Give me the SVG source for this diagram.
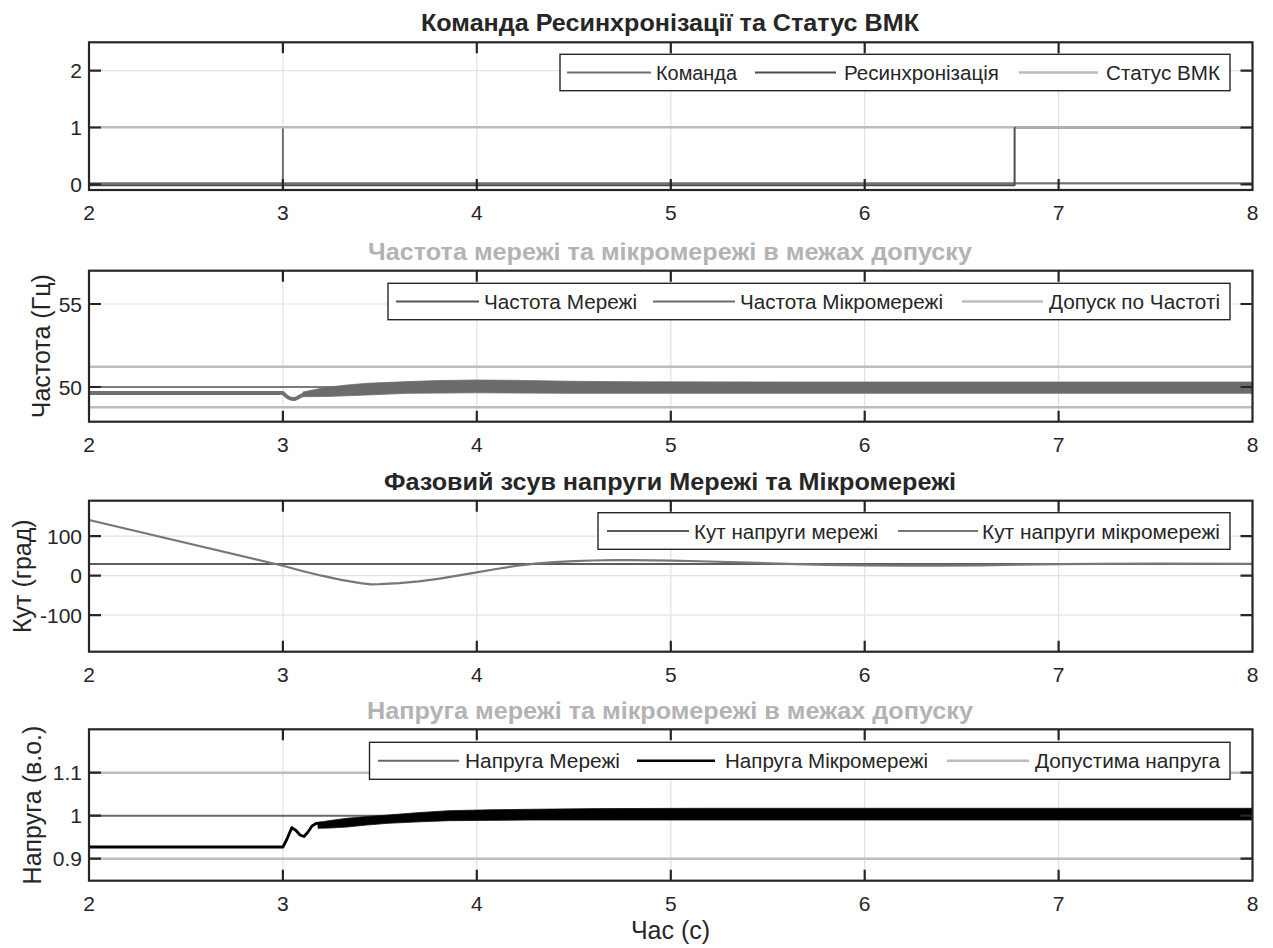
<svg xmlns="http://www.w3.org/2000/svg" width="1273" height="948" viewBox="0 0 1273 948">
<defs>
<style>
text{font-family:"Liberation Sans",Arial,"DejaVu Sans",sans-serif;fill:#262626}
.xt{font-size:21px;text-anchor:middle}
.yt{font-size:21px;text-anchor:end}
.ttl{font-size:23px;font-weight:bold;text-anchor:middle}
.ttlg{fill:#b3b3b3}
.lab{font-size:25px;text-anchor:middle}
.lgt{font-size:20.5px}
.ax{fill:none;stroke:#262626;stroke-width:2.2}
.grid{stroke:#e2e2e2;stroke-width:1.2;fill:none}
.tick{stroke:#262626;stroke-width:2.2;fill:none}
.lgbox{fill:#ffffff;stroke:#262626;stroke-width:1.4}
.tol{stroke:#bdbdbd;stroke-width:2.5;fill:none}
.ln{fill:none;stroke-linejoin:round}
</style>
</defs>
<rect x="0" y="0" width="1273" height="948" fill="#ffffff"/>

<!-- ===== Subplot 1 ===== -->
<g id="plot1">
<path class="grid" d="M282.9,42.3V190M476.8,42.3V190M670.8,42.3V190M864.7,42.3V190M1058.6,42.3V190M89,70.7H1252.5M89,127.5H1252.5M89,184.3H1252.5"/>
<path class="ln" stroke="#707070" stroke-width="2" d="M89,183.3H282.9V127.5V183.3H1252.5"/>
<path class="ln" stroke="#4d4d4d" stroke-width="2" d="M89,185.3H1014.6V127.5H1252.5"/>
<path class="ln" stroke="#bdbdbd" stroke-width="2.5" d="M89,127.3H1014"/>
<path class="ln" stroke="#b0b0b0" stroke-width="2.5" d="M1015.5,127.3H1252.5"/>
<rect class="ax" x="89" y="42.3" width="1163.5" height="147.7"/>
<path class="tick" d="M282.9,42.3v11M476.8,42.3v11M670.8,42.3v11M864.7,42.3v11M1058.6,42.3v11M282.9,190v-11M476.8,190v-11M670.8,190v-11M864.7,190v-11M1058.6,190v-11M89,70.7h12M89,127.5h12M89,184.3h12M1252.5,70.7h-12M1252.5,127.5h-12M1252.5,184.3h-12"/>
<text class="yt" x="82" y="78.2">2</text>
<text class="yt" x="82" y="135">1</text>
<text class="yt" x="82" y="191.8">0</text>
<text class="xt" x="89" y="220">2</text>
<text class="xt" x="282.9" y="220">3</text>
<text class="xt" x="476.8" y="220">4</text>
<text class="xt" x="670.8" y="220">5</text>
<text class="xt" x="864.7" y="220">6</text>
<text class="xt" x="1058.6" y="220">7</text>
<text class="xt" x="1252.5" y="220">8</text>
<text class="ttl" x="670" y="31" textLength="498" lengthAdjust="spacingAndGlyphs">Команда Ресинхронізації та Статус ВМК</text>
<g id="legend1">
<rect class="lgbox" x="560" y="54.3" width="670" height="36.4"/>
<path class="ln" stroke="#707070" stroke-width="2" d="M567,72.5H651"/>
<text class="lgt" x="656" y="80" textLength="81" lengthAdjust="spacingAndGlyphs">Команда</text>
<path class="ln" stroke="#4d4d4d" stroke-width="2" d="M755,72.5H836"/>
<text class="lgt" x="844" y="80" textLength="155" lengthAdjust="spacingAndGlyphs">Ресинхронізація</text>
<path class="ln" stroke="#bdbdbd" stroke-width="2.5" d="M1019,72.5H1098"/>
<text class="lgt" x="1106" y="80" textLength="114" lengthAdjust="spacingAndGlyphs">Статус ВМК</text>
</g>
</g>

<!-- ===== Subplot 2 ===== -->
<g id="plot2">
<path class="grid" d="M282.9,270.7V421.7M476.8,270.7V421.7M670.8,270.7V421.7M864.7,270.7V421.7M1058.6,270.7V421.7M89,304H1252.5M89,387H1252.5"/>
<path class="tol" d="M89,366.7H1252.5M89,407.3H1252.5"/>
<path class="ln" stroke="#555555" stroke-width="1.6" d="M89,387H1252.5"/>
<path class="ln" stroke="#707070" stroke-width="4" d="M89,393H282.9C287,397.5 291,400 295,398.8C299,397.5 301,395.5 305,394"/>
<polygon fill="#6b6b6b" stroke="#707070" stroke-width="0.8" points="303,392 315,389.5 326.5,387.3 347,385 367,383.3 408,381.6 440,380.5 476.8,380 520,380.4 571,381.3 640,381.8 800,382 1252.5,382 1252.5,393.3 800,393.3 640,393.3 571,393.3 476.8,392.8 408,393.3 367,395 326.5,396.5 303,396.7"/>
<rect class="ax" x="89" y="270.7" width="1163.5" height="151"/>
<path class="tick" d="M282.9,270.7v11M476.8,270.7v11M670.8,270.7v11M864.7,270.7v11M1058.6,270.7v11M282.9,421.7v-11M476.8,421.7v-11M670.8,421.7v-11M864.7,421.7v-11M1058.6,421.7v-11M89,304h12M89,387h12M1252.5,304h-12M1252.5,387h-12"/>
<text class="yt" x="82" y="311.5">55</text>
<text class="yt" x="82" y="394.5">50</text>
<text class="xt" x="89" y="451.5">2</text>
<text class="xt" x="282.9" y="451.5">3</text>
<text class="xt" x="476.8" y="451.5">4</text>
<text class="xt" x="670.8" y="451.5">5</text>
<text class="xt" x="864.7" y="451.5">6</text>
<text class="xt" x="1058.6" y="451.5">7</text>
<text class="xt" x="1252.5" y="451.5">8</text>
<text class="lab" transform="translate(50,346.2) rotate(-90)">Частота (Гц)</text>
<text class="ttl ttlg" x="670" y="260" textLength="604" lengthAdjust="spacingAndGlyphs">Частота мережі та мікромережі в межах допуску</text>
<g id="legend2">
<rect class="lgbox" x="388" y="283.3" width="842" height="36.4"/>
<path class="ln" stroke="#555555" stroke-width="2" d="M396,301.5H479"/>
<text class="lgt" x="484" y="309" textLength="153" lengthAdjust="spacingAndGlyphs">Частота Мережі</text>
<path class="ln" stroke="#6b6b6b" stroke-width="2" d="M653,301.5H735"/>
<text class="lgt" x="740" y="309" textLength="203" lengthAdjust="spacingAndGlyphs">Частота Мікромережі</text>
<path class="ln" stroke="#bdbdbd" stroke-width="2.5" d="M962,301.5H1043"/>
<text class="lgt" x="1049" y="309" textLength="171" lengthAdjust="spacingAndGlyphs">Допуск по Частоті</text>
</g>
</g>

<!-- ===== Subplot 3 ===== -->
<g id="plot3">
<path class="grid" d="M282.9,500.7V651.7M476.8,500.7V651.7M670.8,500.7V651.7M864.7,500.7V651.7M1058.6,500.7V651.7M89,536.2H1252.5M89,575.7H1252.5M89,615.2H1252.5"/>
<path class="ln" stroke="#5c5c5c" stroke-width="2" d="M89,563.9H1252.5"/>
<polyline class="ln" stroke="#777777" stroke-width="2.2" points="89,520 282.9,565.8 302.3,571 321.7,575.7 341.1,579.8 360.5,583.2 371,584.3 379.9,584.2 399.3,583.2 418.7,581.4 438.1,578.8 457.5,575.6 476.8,572.4 496.2,569 515.6,566 535,563.7 554.4,562.1 573.8,561.1 593.2,560.5 612.6,560.2 632,560.1 651.4,560.3 670.8,560.6 709.6,561.5 748.3,562.7 787.1,563.9 825.9,564.8 864.7,565.4 903.5,565.7 942.3,565.7 981.1,565.4 1019.8,564.7 1058.6,564.2 1097.4,563.8 1155.6,563.7 1252.5,563.9"/>
<rect class="ax" x="89" y="500.7" width="1163.5" height="151"/>
<path class="tick" d="M282.9,500.7v11M476.8,500.7v11M670.8,500.7v11M864.7,500.7v11M1058.6,500.7v11M282.9,651.7v-11M476.8,651.7v-11M670.8,651.7v-11M864.7,651.7v-11M1058.6,651.7v-11M89,536.2h12M89,575.7h12M89,615.2h12M1252.5,536.2h-12M1252.5,575.7h-12M1252.5,615.2h-12"/>
<text class="yt" x="82" y="543.7">100</text>
<text class="yt" x="82" y="583.2">0</text>
<text class="yt" x="82" y="622.7">-100</text>
<text class="xt" x="89" y="681.5">2</text>
<text class="xt" x="282.9" y="681.5">3</text>
<text class="xt" x="476.8" y="681.5">4</text>
<text class="xt" x="670.8" y="681.5">5</text>
<text class="xt" x="864.7" y="681.5">6</text>
<text class="xt" x="1058.6" y="681.5">7</text>
<text class="xt" x="1252.5" y="681.5">8</text>
<text class="lab" transform="translate(31,576.2) rotate(-90)">Кут (град)</text>
<text class="ttl" x="670" y="490" textLength="572" lengthAdjust="spacingAndGlyphs">Фазовий зсув напруги Мережі та Мікромережі</text>
<g id="legend3">
<rect class="lgbox" x="598" y="512.7" width="632" height="36.6"/>
<path class="ln" stroke="#5c5c5c" stroke-width="2" d="M607,531H689"/>
<text class="lgt" x="694" y="538.5" textLength="184" lengthAdjust="spacingAndGlyphs">Кут напруги мережі</text>
<path class="ln" stroke="#777777" stroke-width="2" d="M898,531H978"/>
<text class="lgt" x="982" y="538.5" textLength="238" lengthAdjust="spacingAndGlyphs">Кут напруги мікромережі</text>
</g>
</g>

<!-- ===== Subplot 4 ===== -->
<g id="plot4">
<path class="grid" d="M282.9,729.3V880.7M476.8,729.3V880.7M670.8,729.3V880.7M864.7,729.3V880.7M1058.6,729.3V880.7M89,772.7H1252.5M89,815.7H1252.5M89,858.7H1252.5"/>
<path class="tol" d="M89,772.7H1252.5M89,858.7H1252.5"/>
<path class="ln" stroke="#6a6a6a" stroke-width="2" d="M89,815.7H1252.5"/>
<path class="ln" stroke="#000000" stroke-width="2.8" d="M89,847H282.9L287,839L291.8,827.6L296,830.5L300,835L304,836.5L308,832L312,826L316,823.5L322,823L328,825"/>
<polygon fill="#000000" stroke="#111111" stroke-width="0.8" points="318,822.5 330,820.5 347,818.3 367,816.5 388,815 420,812.5 449,810.7 490,809.8 530,809.3 600,808.6 700,808.3 1252.5,808.3 1252.5,820 700,820 600,820 530,820 449,820.7 420,821.8 388,823.3 367,825 347,827 330,828 318,828.3"/>
<rect class="ax" x="89" y="729.3" width="1163.5" height="151.4"/>
<path class="tick" d="M282.9,729.3v11M476.8,729.3v11M670.8,729.3v11M864.7,729.3v11M1058.6,729.3v11M282.9,880.7v-11M476.8,880.7v-11M670.8,880.7v-11M864.7,880.7v-11M1058.6,880.7v-11M89,772.7h12M89,815.7h12M89,858.7h12M1252.5,772.7h-12M1252.5,815.7h-12M1252.5,858.7h-12"/>
<text class="yt" x="82" y="780.2">1.1</text>
<text class="yt" x="82" y="823.2">1</text>
<text class="yt" x="82" y="866.2">0.9</text>
<text class="xt" x="89" y="910.5">2</text>
<text class="xt" x="282.9" y="910.5">3</text>
<text class="xt" x="476.8" y="910.5">4</text>
<text class="xt" x="670.8" y="910.5">5</text>
<text class="xt" x="864.7" y="910.5">6</text>
<text class="xt" x="1058.6" y="910.5">7</text>
<text class="xt" x="1252.5" y="910.5">8</text>
<text class="lab" transform="translate(41,805) rotate(-90)">Напруга (в.о.)</text>
<text class="lab" x="670.5" y="939">Час (с)</text>
<text class="ttl ttlg" x="670" y="718.6" textLength="606" lengthAdjust="spacingAndGlyphs">Напруга мережі та мікромережі в межах допуску</text>
<g id="legend4">
<rect class="lgbox" x="369.5" y="742.3" width="860.5" height="37"/>
<path class="ln" stroke="#6a6a6a" stroke-width="2" d="M378,760.8H459"/>
<text class="lgt" x="465" y="768.3" textLength="155" lengthAdjust="spacingAndGlyphs">Напруга Мережі</text>
<path class="ln" stroke="#000000" stroke-width="2.5" d="M637,760.8H715"/>
<text class="lgt" x="725" y="768.3" textLength="203" lengthAdjust="spacingAndGlyphs">Напруга Мікромережі</text>
<path class="ln" stroke="#bdbdbd" stroke-width="2.5" d="M947,760.8H1029"/>
<text class="lgt" x="1035" y="768.3" textLength="185" lengthAdjust="spacingAndGlyphs">Допустима напруга</text>
</g>
</g>
</svg>
